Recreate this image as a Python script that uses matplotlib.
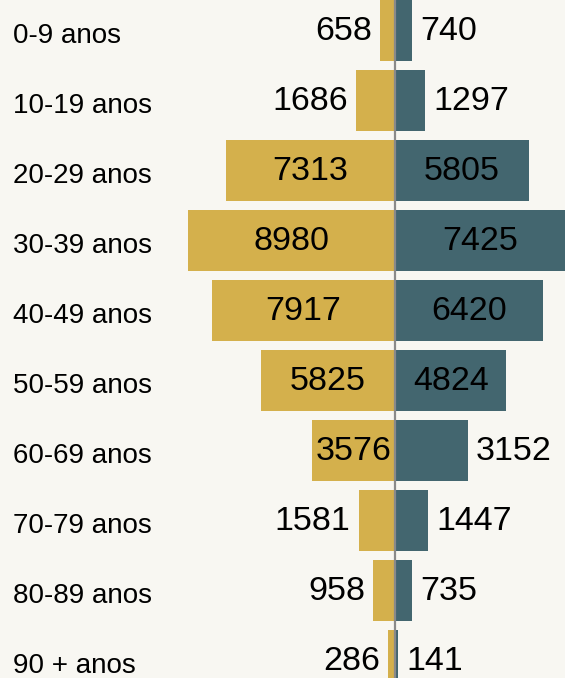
import matplotlib
matplotlib.use("Agg")
import matplotlib.pyplot as plt

plt.rcParams['font.family'] = ['Liberation Sans', 'DejaVu Sans']

categories = ["0-9 anos", "10-19 anos", "20-29 anos", "30-39 anos", "40-49 anos",
              "50-59 anos", "60-69 anos", "70-79 anos", "80-89 anos", "90 + anos"]
left_values = [658, 1686, 7313, 8980, 7917, 5825, 3576, 1581, 958, 286]
right_values = [740, 1297, 5805, 7425, 6420, 4824, 3152, 1447, 735, 141]

W, H = 565, 678
bg = "#F8F7F2"
yellow = "#D4B04C"
teal = "#43666F"

fig = plt.figure(figsize=(W / 100, H / 100), dpi=100, facecolor=bg)
ax = fig.add_axes([0, 0, 1, 1], facecolor=bg)

scale = 0.02308  # px per unit
cx = 395.0
ax.set_xlim(-cx / scale, (W - cx) / scale)
row_px = 70.0
first_c = 30.5
ax.set_ylim((H - first_c) / row_px, -first_c / row_px)

ys = list(range(len(categories)))
bh = 61 / 70
ax.barh(ys, [-v for v in left_values], height=bh, color=yellow, edgecolor="none")
ax.barh(ys, right_values, height=bh, color=teal, edgecolor="none")
ax.axvline(0, color="#8A8A8A", lw=1.6)

fs = 24.5
gap = 8 / scale
inside_thr = 3400
dy = 0.01
for y, v in zip(ys, left_values):
    if v > inside_thr:
        ax.text(-v / 2, y + dy, str(v), ha="center", va="center", fontsize=fs, color="black")
    else:
        ax.text(-v - gap, y + dy, str(v), ha="right", va="center", fontsize=fs, color="black")
for y, v in zip(ys, right_values):
    if v > inside_thr:
        ax.text(v / 2, y + dy, str(v), ha="center", va="center", fontsize=fs, color="black")
    else:
        ax.text(v + gap, y + dy, str(v), ha="left", va="center", fontsize=fs, color="black")

xl = ax.get_xlim()[0] + 13 / scale
for y, c in zip(ys, categories):
    ax.text(xl, y + 0.08, c, ha="left", va="center", fontsize=20, color="black")

ax.axis("off")
fig.savefig("out.png", dpi=100, facecolor=bg)
